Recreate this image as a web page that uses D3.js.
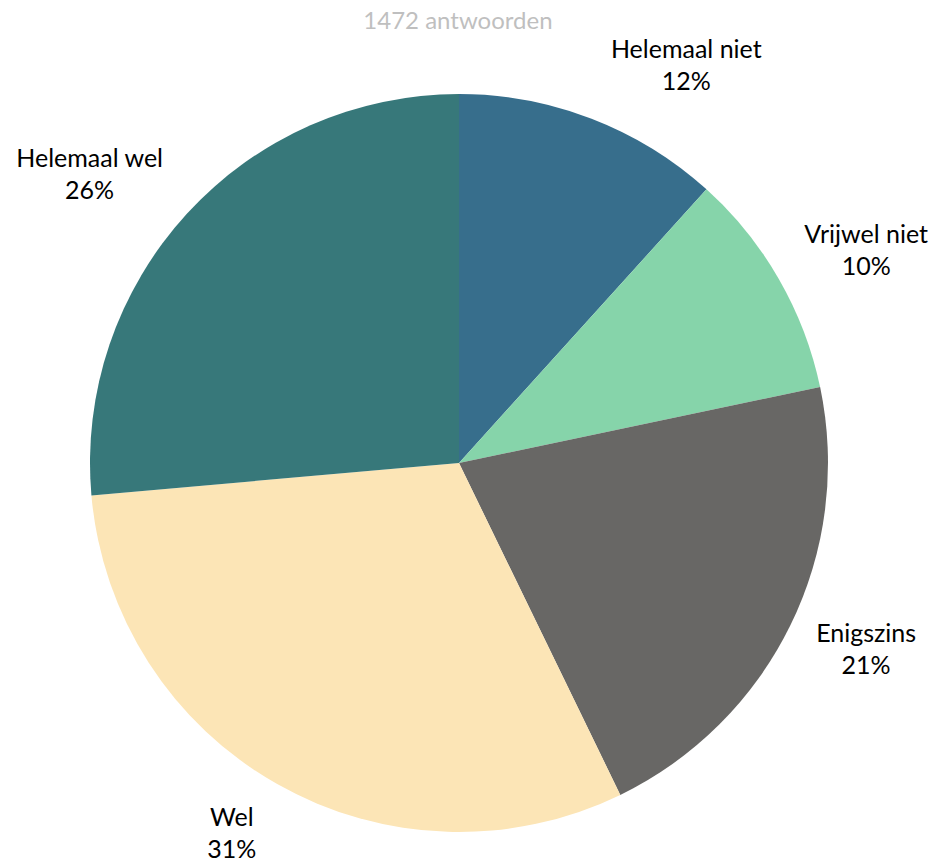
<!DOCTYPE html>
<html><head><meta charset="utf-8">
<script src="https://cdn.jsdelivr.net/npm/d3@7"></script>
<style>body{margin:0;background:#fff}svg{display:block}</style>
</head><body><svg id="c" width="933" height="861"></svg>
<script>
const categories = ["Helemaal niet", "Vrijwel niet", "Enigszins", "Wel", "Helemaal wel"];
const values = [11.7, 10.0, 21.1, 30.8, 26.4];
const percentLabels = ["12%", "10%", "21%", "31%", "26%"];
const colors = ["#376E8C", "#86D4AA", "#686765", "#FCE5B6", "#37787A"];
const title = "1472 antwoorden";

const W = 933, H = 861, cx = 459, cy = 463, R = 369;
const font = "Lato, 'Open Sans', sans-serif";
const svg = d3.select("#c");

svg.append("text").attr("x", cx - 1).attr("y", 29).attr("text-anchor", "middle")
  .attr("font-family", font).attr("font-size", 24).attr("fill", "#BFBFBF").text(title);

const data = categories.map((c, i) => ({cat: c, value: values[i], pct: percentLabels[i], color: colors[i]}));
const pie = d3.pie().value(d => d.value).sort(null);
const arcs = pie(data);
const arc = d3.arc().innerRadius(0).outerRadius(R);
const g = svg.append("g").attr("transform", `translate(${cx},${cy})`);
g.selectAll("path").data(arcs).join("path").attr("d", arc).attr("fill", d => d.data.color);

const fs = 25, lh = 32;
const lg = g.selectAll("g.lab").data(arcs).join("g").attr("class", "lab");
lg.each(function(d) {
  const sel = d3.select(this);
  const t = sel.append("text").attr("text-anchor", "middle").attr("font-family", font)
    .attr("font-size", fs).attr("fill", "#000");
  t.append("tspan").attr("x", 0).attr("dy", 0).text(d.data.cat);
  t.append("tspan").attr("x", 0).attr("dy", lh).text(d.data.pct);
  const bb = t.node().getBBox();
  const w = bb.width, h = lh * 2;
  const a = (d.startAngle + d.endAngle) / 2;
  const s = Math.sin(a), c = Math.cos(a);
  const ar = R + 12;
  const ax = ar * s, ay = -ar * c;
  const bx = ax + Math.sign(s) * (w / 2 + 15);
  const by = ay - c * (h / 2) * 1.4;
  t.attr("transform", `translate(${bx},${by - 8})`);
});
</script></body></html>
